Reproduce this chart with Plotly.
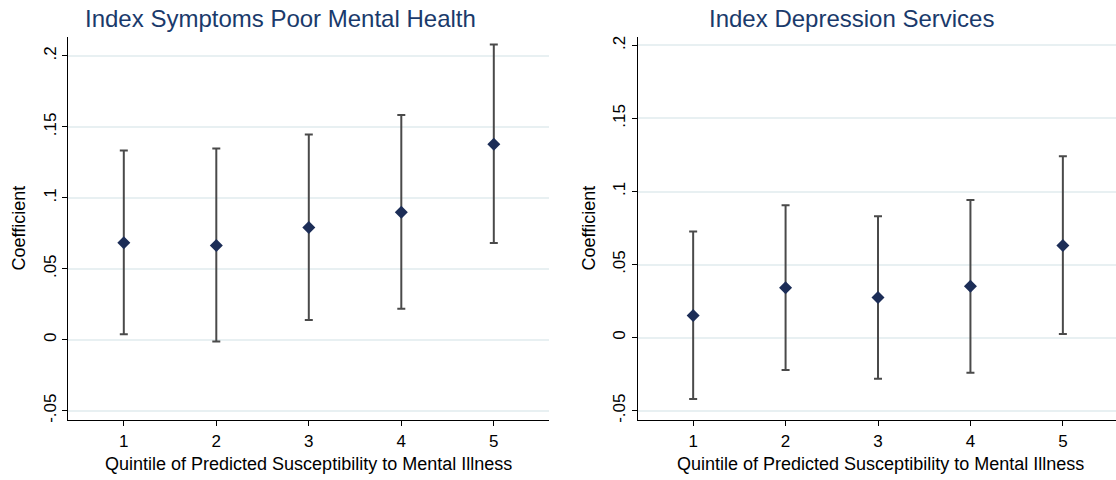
import plotly.graph_objects as go

quintiles = [1, 2, 3, 4, 5]

# Panel 1: Index Symptoms Poor Mental Health
sym_coef = [0.0683, 0.0665, 0.0791, 0.0898, 0.1377]
sym_upper = [0.1333, 0.1347, 0.1447, 0.1583, 0.2080]
sym_lower = [0.0039, -0.0012, 0.0140, 0.0219, 0.0681]

# Panel 2: Index Depression Services
dep_coef = [0.0152, 0.0342, 0.0274, 0.0351, 0.0630]
dep_upper = [0.0727, 0.0906, 0.0831, 0.0942, 0.1241]
dep_lower = [-0.0419, -0.0222, -0.0281, -0.0240, 0.0025]

y_tickvals = [-0.05, 0, 0.05, 0.1, 0.15, 0.2]
y_ticktext = ["-.05", "0", ".05", ".1", ".15", ".2"]
x_ticktext = ["1", "2", "3", "4", "5"]

titles = ["Index Symptoms Poor Mental Health", "Index Depression Services"]
x_title = "Quintile of Predicted Susceptibility to Mental Illness"
y_title = "Coefficient"

FONT = "Liberation Sans, Arial, sans-serif"
MARKER = "#1c2d57"
ERR = "#4a4a4a"
GRID = "#e8f0f2"
TITLE_C = "#1a3a6b"

fig = go.Figure()

panels = [
    (sym_coef, sym_upper, sym_lower, "x", "y"),
    (dep_coef, dep_upper, dep_lower, "x2", "y2"),
]
for coef, up, lo, xa, ya in panels:
    fig.add_trace(go.Scatter(
        x=quintiles, y=coef, mode="markers",
        xaxis=xa, yaxis=ya,
        marker=dict(symbol="diamond", size=10, color=MARKER),
        error_y=dict(type="data", symmetric=False,
                     array=[u - c for u, c in zip(up, coef)],
                     arrayminus=[c - l for c, l in zip(coef, lo)],
                     color=ERR, thickness=2, width=4),
        showlegend=False,
    ))

W, H = 1116, 480
dom_y = [1 - 422 / H, 1 - 36 / H]
dom_x1 = [68.3 / W, 549.3 / W]
dom_x2 = [637.7 / W, 1.0]

common_x = dict(
    tickmode="array", tickvals=quintiles, ticktext=x_ticktext,
    ticks="outside", ticklen=5, tickwidth=1, tickcolor="#000",
    showline=True, linecolor="#000", linewidth=1,
    showgrid=False, zeroline=False,
    tickfont=dict(family=FONT, size=17, color="#000"),
)
common_y = dict(
    tickmode="array", tickvals=y_tickvals, ticktext=y_ticktext,
    ticks="outside", ticklen=5, tickwidth=1, tickcolor="#000",
    showline=True, linecolor="#000", linewidth=1,
    showgrid=True, gridcolor=GRID, gridwidth=1.5, zeroline=False,
    tickangle=-90,
    tickfont=dict(family=FONT, size=17, color="#000"),
)

fig.update_layout(
    width=W, height=H,
    margin=dict(l=0, r=0, t=0, b=0),
    paper_bgcolor="white", plot_bgcolor="white",
    font=dict(family=FONT),
    xaxis=dict(domain=dom_x1, range=[0.4, 5.6], anchor="y", **common_x),
    yaxis=dict(domain=dom_y, range=[-0.0568, 0.2135], anchor="x", **common_y),
    xaxis2=dict(domain=dom_x2, range=[0.4, 5.575], anchor="y2", **common_x),
    yaxis2=dict(domain=dom_y, range=[-0.0566, 0.2059], anchor="x2", **common_y),
)

annotations = []
title_cx = [280 / W, 851.5 / W]
xtitle_cx = [308.5 / W, 880 / W]
for i, t in enumerate(titles):
    annotations.append(dict(text=t, x=title_cx[i], y=1 - 18 / H, xref="paper", yref="paper",
                            showarrow=False, xanchor="center", yanchor="middle",
                            font=dict(family=FONT, size=24, color=TITLE_C)))
    annotations.append(dict(text=x_title, x=xtitle_cx[i], y=1 - 466 / H, xref="paper", yref="paper",
                            showarrow=False, xanchor="center", yanchor="middle",
                            font=dict(family=FONT, size=18, color="#000")))
ytitle_x = [19 / W, 589 / W]
for i in range(2):
    annotations.append(dict(text=y_title, x=ytitle_x[i], y=1 - 229 / H, xref="paper", yref="paper",
                            showarrow=False, xanchor="center", yanchor="middle", textangle=-90,
                            font=dict(family=FONT, size=18, color="#000")))
fig.update_layout(annotations=annotations)

fig.write_html("out.html",
               config={"displayModeBar": False},
               post_script="document.body.style.margin='0';document.body.style.overflow='hidden';")
